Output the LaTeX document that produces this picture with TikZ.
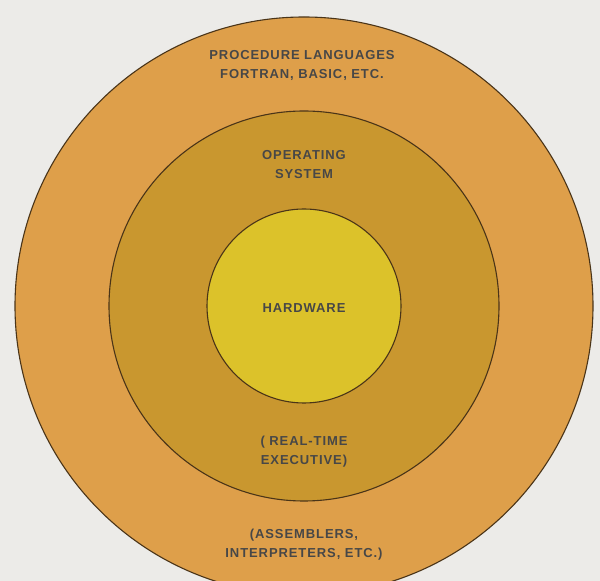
\documentclass[tikz,border=0pt]{standalone}
\usepackage{fontspec}
\setmainfont{Liberation Sans}
\usepackage{xcolor}
\definecolor{paper}{HTML}{ECEBE8}
\definecolor{langs}{HTML}{DE9F4A}
\definecolor{opsys}{HTML}{C9972F}
\definecolor{hardw}{HTML}{DCC22A}
\definecolor{ring}{HTML}{4A3418}

\begin{document}
\begin{tikzpicture}[x=1pt,y=1pt,
  layer/.style={draw=ring,line width=1.1pt},
  lbl/.style={align=center,text=black!72,font=\bfseries\fontsize{13}{19}\selectfont\addfontfeatures{LetterSpace=7}}]
\useasboundingbox (0,0) rectangle (600,581);
\fill[paper] (0,0) rectangle (600,581);
\coordinate (O) at (304,275);
\begin{scope}
\clip (0,0) rectangle (600,581);
\draw[layer,fill=langs] (O) circle (289);
\end{scope}
\draw[layer,fill=opsys] (O) circle (195);
\draw[layer,fill=hardw] (O) circle (97);
\node[lbl] (languages) at (302,516) {PROCEDURE LANGUAGES\\FORTRAN, BASIC, ETC.};
\node[lbl] (system) at (304,416) {OPERATING\\SYSTEM};
\node[lbl] (hardware) at (304,273) {HARDWARE};
\node[lbl] (executive) at (304,129) {( REAL-TIME\\EXECUTIVE)};
\node[lbl] (assemblers) at (304,36) {(ASSEMBLERS,\\INTERPRETERS, ETC.)};
\end{tikzpicture}
\end{document}
